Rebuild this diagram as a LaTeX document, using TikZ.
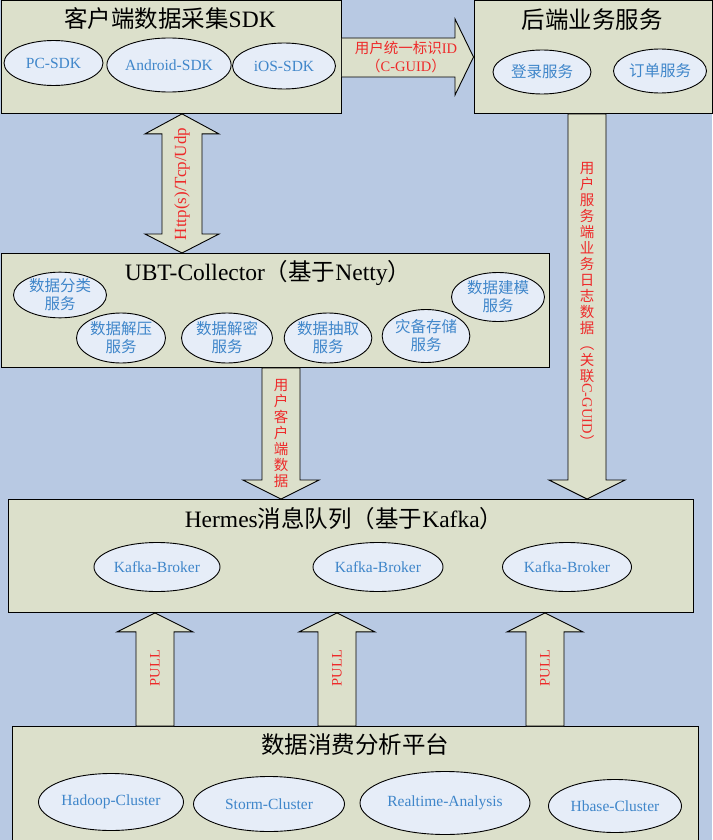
\documentclass[tikz,border=0pt]{standalone}
\usepackage{fontspec}
\usepackage{graphicx}
\setmainfont{Liberation Serif}
\newfontfamily\cjk{Noto Sans CJK SC}
\usetikzlibrary{shapes.geometric,calc}
\definecolor{bg}{HTML}{B8C9E3}
\definecolor{boxfill}{HTML}{DCE0CB}
\definecolor{ellfill}{HTML}{E6EDF8}
\definecolor{elltext}{HTML}{3F86CA}
\definecolor{lblred}{HTML}{EE2A2A}
\newcommand\pullarrow[3]{% #1 x centre, #2 tip anchor, #3 base anchor
  \draw[blk] ($(#1,0 |- #3)+(-19,0)$) -- ($(#1,0 |- #2)+(-19,19)$) -- ($(#1,0 |- #2)+(-38,19)$)
    -- (#1,0 |- #2) -- ($(#1,0 |- #2)+(38,19)$) -- ($(#1,0 |- #2)+(19,19)$) -- ($(#1,0 |- #3)+(19,0)$) -- cycle;}
\newcommand\downarrowblk[4]{% #1 x centre, #2 start anchor, #3 tip anchor, #4 half head
  \draw[blk] ($(#1,0 |- #2)+(-19,0)$) -- ($(#1,0 |- #3)+(-19,-19)$) -- ($(#1,0 |- #3)+(-#4,-19)$)
    -- (#1,0 |- #3) -- ($(#1,0 |- #3)+(#4,-19)$) -- ($(#1,0 |- #3)+(19,-19)$) -- ($(#1,0 |- #2)+(19,0)$) -- cycle;}
\begin{document}
\begin{tikzpicture}[x=1pt,y=-1pt,
  panel/.style={draw=black, fill=boxfill, line width=0.9pt, inner sep=0pt, rectangle, anchor=north west},
  svc/.style={ellipse, draw=black, fill=ellfill, line width=0.9pt, inner sep=0pt, text=elltext,
     font=\fontsize{15.5}{18}\selectfont, align=center},
  ttl/.style={font=\fontsize{23.5}{25}\selectfont, inner sep=0pt},
  blk/.style={draw=black, fill=boxfill, line width=0.9pt, line join=miter},
  lbl/.style={text=lblred, font=\fontsize{14.5}{17}\selectfont, inner sep=0pt, align=center},
  vlbl/.style={text=lblred, font=\cjk\fontsize{14.5}{16}\selectfont, inner sep=0pt, align=center}]
\fill[bg] (0,0) rectangle (712,840);
\useasboundingbox (0,0) rectangle (712,840);

% panels
\node[panel, minimum width=340.5pt, minimum height=112.5pt] (sdk) at (0.5,0.5) {};
\node[panel, minimum width=238pt, minimum height=112.5pt] (backend) at (473.5,0.5) {};
\node[panel, minimum width=548.5pt, minimum height=114pt] (ubt) at (0.5,253) {};
\node[panel, minimum width=685pt, minimum height=113pt] (hermes) at (8,499) {};
\node[panel, minimum width=686pt, minimum height=113.5pt] (consume) at (12,726) {};

% titles
\node[ttl] (sdkT) at (170,19) {{\cjk 客户端数据采集}SDK};
\node[ttl] (backendT) at (592,20) {\cjk 后端业务服务};
\node[ttl] (ubtT) at (268,273) {UBT-Collector{\cjk （基于}Netty{\cjk ）}};
\node[ttl] (hermesT) at (344,519) {Hermes{\cjk 消息队列（基于}Kafka{\cjk ）}};
\node[ttl] (consumeT) at (355,745) {\cjk 数据消费分析平台};

% client SDK services
\node[svc, minimum width=99pt, minimum height=45pt] (pc) at (53.5,63) {PC-SDK};
\node[svc, minimum width=118pt, minimum height=54pt] (android) at (169,65) {Android-SDK};
\node[svc, minimum width=103pt, minimum height=46pt] (ios) at (284,66) {iOS-SDK};

% backend services
\node[svc, minimum width=98pt, minimum height=44pt, font=\cjk\fontsize{15.5}{18}\selectfont] (login) at (542,72) {登录服务};
\node[svc, minimum width=93pt, minimum height=44pt, font=\cjk\fontsize{15.5}{18}\selectfont] (order) at (660,71) {订单服务};

% collector services
\tikzset{csvc/.style={svc, font=\cjk\fontsize{15.5}{18}\selectfont}}
\node[csvc, minimum width=93pt, minimum height=43pt] (cls) at (60,295) {数据分类\\服务};
\node[csvc, minimum width=89pt, minimum height=50pt] (unz) at (121,338) {数据解压\\服务};
\node[csvc, minimum width=91pt, minimum height=50pt] (dec) at (227,338) {数据解密\\服务};
\node[csvc, minimum width=87pt, minimum height=50pt] (ext) at (328,338) {数据抽取\\服务};
\node[csvc, minimum width=87pt, minimum height=53pt] (bak) at (426,336) {灾备存储\\服务};
\node[csvc, minimum width=93pt, minimum height=49pt] (mod) at (498,297) {数据建模\\服务};

% brokers
\node[svc, minimum width=126pt, minimum height=49pt] (kb1) at (157,567) {Kafka-Broker};
\node[svc, minimum width=130pt, minimum height=49pt] (kb2) at (378,567) {Kafka-Broker};
\node[svc, minimum width=129pt, minimum height=49pt] (kb3) at (567,567) {Kafka-Broker};

% consumers
\node[svc, minimum width=145pt, minimum height=57pt] (hadoop) at (111,802) {Hadoop-Cluster};
\node[svc, minimum width=151pt, minimum height=55pt] (storm) at (269,804) {Storm-Cluster};
\node[svc, minimum width=170pt, minimum height=63pt] (realtime) at (445,803) {Realtime-Analysis};
\node[svc, minimum width=133pt, minimum height=53pt] (hbase) at (615,806) {Hbase-Cluster};

% SDK -> backend block arrow
\draw[blk] (sdk.east |- 0,38) -- (455,38) -- (455,19) -- (backend.west |- 0,57) -- (455,95) -- (455,77) -- (sdk.east |- 0,77);
\node[lbl] (guidL) at (406,57) {{\cjk 用户统一标识}ID\\[1pt]{\cjk （}C-GUID{\cjk ）}};

% SDK <-> collector double arrow
\draw[blk] (182,0 |- sdk.south) -- ($(182,0 |- sdk.south)+(37,20)$) -- ($(182,0 |- sdk.south)+(20,20)$)
  -- ($(182,0 |- ubt.north)+(20,-19)$) -- ($(182,0 |- ubt.north)+(37,-19)$) -- (182,0 |- ubt.north)
  -- ($(182,0 |- ubt.north)+(-37,-19)$) -- ($(182,0 |- ubt.north)+(-20,-19)$)
  -- ($(182,0 |- sdk.south)+(-20,20)$) -- ($(182,0 |- sdk.south)+(-37,20)$) -- cycle;
\node[lbl, rotate=90, font=\fontsize{17}{19}\selectfont] (httpL) at (182,184) {Http(s)/Tcp/Udp};

% collector -> hermes
\downarrowblk{281}{ubt.south}{hermes.north}{38}
\node[vlbl] (cliL) at (281,433) {用\\户\\客\\户\\端\\数\\据};

% backend -> hermes
\downarrowblk{587}{backend.south}{hermes.north}{38}
\node[vlbl, anchor=north] (logL) at (587,162) {用\\户\\服\\务\\端\\业\\务\\日\\志\\数\\据\\︵\\关\\联};
\node[lbl, rotate=-90, anchor=west, font=\fontsize{14.5}{16}\selectfont] (guidV) at (logL.south) {C-GUID};
\node[vlbl, anchor=north] (logE) at ([yshift=-1pt]guidV.east) {︶};

% PULL arrows
\pullarrow{155}{hermes.south}{consume.north}
\pullarrow{337}{hermes.south}{consume.north}
\pullarrow{545}{hermes.south}{consume.north}
\node[lbl, rotate=90] (p1) at (155,668) {PULL};
\node[lbl, rotate=90] (p2) at (337,668) {PULL};
\node[lbl, rotate=90] (p3) at (545,668) {PULL};
\end{tikzpicture}
\end{document}
